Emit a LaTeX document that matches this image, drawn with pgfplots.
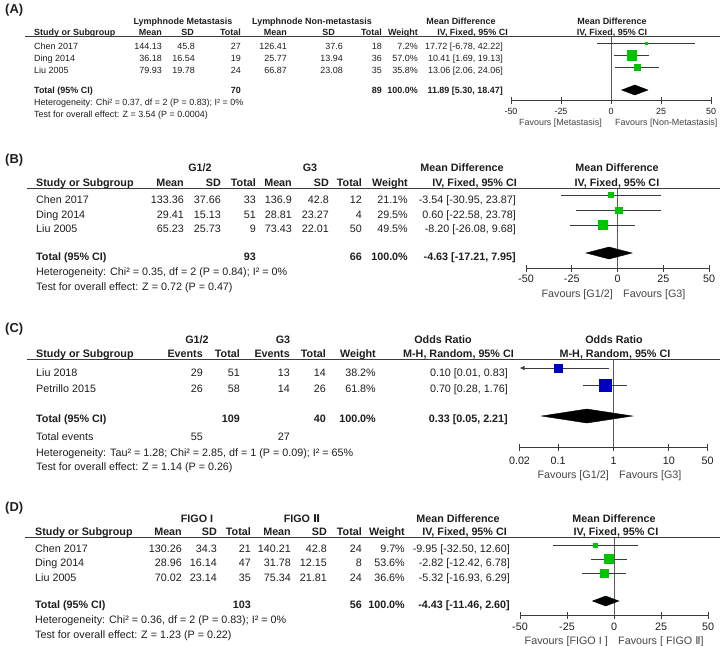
\documentclass[border=0pt]{standalone}
\usepackage{fontspec}
\setmainfont{Liberation Sans}
\newfontfamily\dejavu{DejaVu Sans}
\usepackage{pgfplots}
\pgfplotsset{compat=1.18}
\usetikzlibrary{arrows.meta}

\definecolor{txt}{HTML}{1E1E1E}
\definecolor{rule}{HTML}{3C3C3C}
\definecolor{vline}{HTML}{5A5A5A}
\definecolor{fav}{HTML}{454545}
\definecolor{mdgreen}{HTML}{00C400}
\definecolor{orblue}{HTML}{0000C4}

\newcommand\fa{\fontsize{9}{11}\selectfont}
\newcommand\fb{\fontsize{10.8}{13}\selectfont}
\newcommand\fp{\fontsize{13}{15}\selectfont\bfseries}
\newcommand\TL[4][]{\node[anchor=base west,#1] at (#2,#3) {#4};}
\newcommand\TR[4][]{\node[anchor=base east,#1] at (#2,#3) {#4};}
\newcommand\TC[4][]{\node[anchor=base,#1] at (#2,#3) {#4};}

\pgfplotsset{
  forest/.style={
    scale only axis, clip=false,
    axis x line*=bottom, axis y line=none, ytick=\empty,
    x axis line style={draw=rule, line width=0.8bp, -},
    tick align=center, major tick length=7bp,
    tick style={draw=rule, line width=0.8bp},
    xticklabel style={text=txt, inner sep=0pt, anchor=base},
  },
  ci/.style={draw=rule, line width=0.8bp, mark=none, forget plot},
  zero/.style={draw=vline, line width=0.8bp, mark=none, forget plot},
  sq/.style={only marks, mark=square*, mark options={draw=mdgreen, fill=mdgreen}},
  sqb/.style={only marks, mark=square*, mark options={draw=orblue, fill=orblue}},
  dia/.style={fill=black, draw=black, mark=none},
}

\begin{document}
\begin{tikzpicture}
\path[use as bounding box] (0,0) rectangle (720bp,-646bp);

% ---------------- (A) ----------------
\begin{axis}[forest, at={(511bp,-36bp)}, anchor=north west,
  width=200bp, y=12bp, xmin=-50, xmax=50, ymin=-5.75, ymax=-0.4167,
  xtick={-50,-25,0,25,50}, xticklabels={-50,-25,0,25,50},
  xticklabel style={font=\fa, yshift=-10.7bp}]
\addplot[zero] coordinates {(0,-5.75) (0,-0.4167)};
\addplot[ci] coordinates {(-6.78,-1) (42.22,-1)};
\addplot[ci] coordinates {(1.69,-2) (19.13,-2)};
\addplot[ci] coordinates {(2.06,-3) (24.06,-3)};
\addplot[sq, mark size=1bp] coordinates {(17.72,-1)};
\addplot[sq, mark size=4.7bp] coordinates {(10.41,-2)};
\addplot[sq, mark size=3bp] coordinates {(13.06,-3)};
\addplot[dia] coordinates {(5.30,-4.917) (11.89,-4.5) (18.47,-4.917) (11.89,-5.333)} -- cycle;
\end{axis}

% ---------------- (B) ----------------
\begin{axis}[forest, at={(526bp,-188bp)}, anchor=north west,
  width=183bp, y=15bp, xmin=-50, xmax=50, ymin=-5.867, ymax=-0.533,
  xtick={-50,-25,0,25,50}, xticklabels={-50,-25,0,25,50},
  xticklabel style={font=\fb, yshift=-11.4bp}]
\addplot[zero] coordinates {(0,-5.867) (0,-0.533)};
\addplot[ci] coordinates {(-30.95,-1) (23.87,-1)};
\addplot[ci] coordinates {(-22.58,-2) (23.78,-2)};
\addplot[ci] coordinates {(-26.08,-3) (9.68,-3)};
\addplot[sq, mark size=2.5bp] coordinates {(-3.54,-1)};
\addplot[sq, mark size=3.3bp] coordinates {(0.60,-2)};
\addplot[sq, mark size=4.5bp] coordinates {(-8.20,-3)};
\addplot[dia] coordinates {(-17.21,-4.867) (-4.63,-4.467) (7.95,-4.867) (-4.63,-5.267)} -- cycle;
\end{axis}

% ---------------- (C) ----------------
\begin{axis}[forest, xmode=log, at={(519.5bp,-360bp)}, anchor=north west,
  width=188bp, y=17bp, xmin=0.02, xmax=50, ymin=-5.647, ymax=-0.529,
  xtick={0.02,0.1,1,10,50}, xticklabels={0.02,0.1,1,10,50},
  minor xtick={},
  xticklabel style={font=\fb, yshift=-13.5bp}]
\addplot[zero] coordinates {(1,-5.647) (1,-0.529)};
\addplot[ci, -{Latex[length=5bp,width=4.5bp]}] coordinates {(0.83,-1) (0.02,-1)};
\addplot[ci] coordinates {(0.28,-2) (1.76,-2)};
\addplot[sqb, mark size=4.2bp] coordinates {(0.10,-1)};
\addplot[sqb, mark size=5.8bp] coordinates {(0.70,-2)};
\addplot[dia] coordinates {(0.05,-3.824) (0.33,-3.412) (2.21,-3.824) (0.33,-4.236)} -- cycle;
\end{axis}

% ---------------- (D) ----------------
\begin{axis}[forest, at={(520bp,-537bp)}, anchor=north west,
  width=188bp, y=14bp, xmin=-50, xmax=50, ymin=-6, ymax=-0.4286,
  xtick={-50,-25,0,25,50}, xticklabels={-50,-25,0,25,50},
  xticklabel style={font=\fb, yshift=-12.4bp}]
\addplot[zero] coordinates {(0,-6) (0,-0.4286)};
\addplot[ci] coordinates {(-32.50,-1) (12.60,-1)};
\addplot[ci] coordinates {(-12.42,-2) (6.78,-2)};
\addplot[ci] coordinates {(-16.93,-3) (6.29,-3)};
\addplot[sq, mark size=1.7bp] coordinates {(-9.95,-1)};
\addplot[sq, mark size=4.5bp] coordinates {(-2.82,-2)};
\addplot[sq, mark size=3.7bp] coordinates {(-5.32,-3)};
\addplot[dia] coordinates {(-11.46,-5) (-4.43,-4.643) (2.60,-5) (-4.43,-5.357)} -- cycle;
\end{axis}

% ---------------- tables ----------------
\begin{scope}[x=1bp, y=-1bp, every node/.style={inner sep=0pt, text=txt, font=\fa}]
\TL[font=\fp]{5}{13.6}{(A)}
\TC{183}{24.2}{\textbf{Lymphnode Metastasis}}
\TC{312}{24.2}{\textbf{Lymphnode Non-metastasis}}
\TC{461}{24.2}{\textbf{Mean Difference}}
\TC{612}{24.2}{\textbf{Mean Difference}}
\TL{34}{35.2}{\textbf{Study or Subgroup}}
\TR{162}{35.2}{\textbf{Mean}}\TR{194}{35.2}{\textbf{SD}}\TR{241}{35.2}{\textbf{Total}}
\TR{287}{35.2}{\textbf{Mean}}\TR{335}{35.2}{\textbf{SD}}\TR{382}{35.2}{\textbf{Total}}
\TR{418}{35.2}{\textbf{Weight}}\TR{508}{35.2}{\textbf{IV, Fixed, 95\% CI}}
\TC{612}{35.2}{\textbf{IV, Fixed, 95\% CI}}
\draw[rule, line width=0.9bp] (25,36.5) -- (720,36.5);
\TL{34}{49.2}{Chen 2017}\TR{162}{49.2}{144.13}\TR{195}{49.2}{45.8}\TR{241}{49.2}{27}\TR{287}{49.2}{126.41}\TR{343}{49.2}{37.6}\TR{382}{49.2}{18}\TR{418}{49.2}{7.2\%}\TR{503}{49.2}{17.72 [-6.78, 42.22]}
\TL{34}{61.2}{Ding 2014}\TR{162}{61.2}{36.18}\TR{195}{61.2}{16.54}\TR{241}{61.2}{19}\TR{287}{61.2}{25.77}\TR{343}{61.2}{13.94}\TR{382}{61.2}{36}\TR{418}{61.2}{57.0\%}\TR{503}{61.2}{10.41 [1.69, 19.13]}
\TL{34}{73.2}{Liu 2005}\TR{162}{73.2}{79.93}\TR{195}{73.2}{19.78}\TR{241}{73.2}{24}\TR{287}{73.2}{66.87}\TR{343}{73.2}{23.08}\TR{382}{73.2}{35}\TR{418}{73.2}{35.8\%}\TR{503}{73.2}{13.06 [2.06, 24.06]}
\TL{34}{93.2}{\textbf{Total (95\% CI)}}\TR{241}{93.2}{\textbf{70}}\TR{382}{93.2}{\textbf{89}}\TR{418}{93.2}{\textbf{100.0\%}}\TR{503}{93.2}{\textbf{11.89 [5.30, 18.47]}}
\TL{34}{105.2}{Heterogeneity: Chi² = 0.37, df = 2 (P = 0.83); I² = 0\%}
\TL{34}{117.2}{Test for overall effect: Z = 3.54 (P = 0.0004)}
\TR[text=fav]{602}{125.2}{Favours [Metastasis]}
\TL[text=fav]{615}{125.2}{Favours [Non-Metastasis]}
\end{scope}

\begin{scope}[x=1bp, y=-1bp, every node/.style={inner sep=0pt, text=txt, font=\fb}]
% (B)
\TL[font=\fp]{5}{163.6}{(B)}
\TC{200}{171.9}{\textbf{G1/2}}\TC{310}{171.9}{\textbf{G3}}
\TC{462}{171.9}{\textbf{Mean Difference}}\TC{617}{171.9}{\textbf{Mean Difference}}
\TL{36}{186.5}{\textbf{Study or Subgroup}}
\TR{184}{186.5}{\textbf{Mean}}\TR{221}{186.5}{\textbf{SD}}\TR{256}{186.5}{\textbf{Total}}
\TR{292}{186.5}{\textbf{Mean}}\TR{329}{186.5}{\textbf{SD}}\TR{362}{186.5}{\textbf{Total}}
\TR{408}{186.5}{\textbf{Weight}}\TR{517}{186.5}{\textbf{IV, Fixed, 95\% CI}}
\TC{617}{186.5}{\textbf{IV, Fixed, 95\% CI}}
\draw[rule, line width=0.9bp] (27,188.5) -- (720,188.5);
\TL{36}{203}{Chen 2017}\TR{184}{203}{133.36}\TR{221}{203}{37.66}\TR{256}{203}{33}\TR{292}{203}{136.9}\TR{329}{203}{42.8}\TR{362}{203}{12}\TR{408}{203}{21.1\%}\TR{516}{203}{-3.54 [-30.95, 23.87]}
\TL{36}{218}{Ding 2014}\TR{184}{218}{29.41}\TR{221}{218}{15.13}\TR{256}{218}{51}\TR{292}{218}{28.81}\TR{329}{218}{23.27}\TR{362}{218}{4}\TR{408}{218}{29.5\%}\TR{516}{218}{0.60 [-22.58, 23.78]}
\TL{36}{232}{Liu 2005}\TR{184}{232}{65.23}\TR{221}{232}{25.73}\TR{256}{232}{9}\TR{292}{232}{73.43}\TR{329}{232}{22.01}\TR{362}{232}{50}\TR{408}{232}{49.5\%}\TR{516}{232}{-8.20 [-26.08, 9.68]}
\TL{36}{260}{\textbf{Total (95\% CI)}}\TR{256}{260}{\textbf{93}}\TR{362}{260}{\textbf{66}}\TR{408}{260}{\textbf{100.0\%}}\TR{516}{260}{\textbf{-4.63 [-17.21, 7.95]}}
\TL{36}{275}{Heterogeneity: Chi² = 0.35, df = 2 (P = 0.84); I² = 0\%}
\TL{36}{290}{Test for overall effect: Z = 0.72 (P = 0.47)}
\TR[text=fav]{613}{297}{Favours [G1/2]}
\TL[text=fav]{623}{297}{Favours [G3]}

% (C)
\TL[font=\fp]{5}{332.5}{(C)}
\TC{197}{343}{\textbf{G1/2}}\TC{283}{343}{\textbf{G3}}
\TC{443}{343}{\textbf{Odds Ratio}}\TC{614}{343}{\textbf{Odds Ratio}}
\TL{36}{357.5}{\textbf{Study or Subgroup}}
\TR{203}{357.5}{\textbf{Events}}\TR{240}{357.5}{\textbf{Total}}\TR{290}{357.5}{\textbf{Events}}\TR{326}{357.5}{\textbf{Total}}
\TR{376}{357.5}{\textbf{Weight}}\TR{514}{357.5}{\textbf{M-H, Random, 95\% CI}}
\TC{615}{357.5}{\textbf{M-H, Random, 95\% CI}}
\draw[rule, line width=0.9bp] (27,359.5) -- (720,359.5);
\TL{36}{376}{Liu 2018}\TR{203}{376}{29}\TR{240}{376}{51}\TR{290}{376}{13}\TR{326}{376}{14}\TR{376}{376}{38.2\%}\TR{508}{376}{0.10 [0.01, 0.83]}
\TL{36}{392}{Petrillo 2015}\TR{203}{392}{26}\TR{240}{392}{58}\TR{290}{392}{14}\TR{326}{392}{26}\TR{376}{392}{61.8\%}\TR{508}{392}{0.70 [0.28, 1.76]}
\TL{36}{422}{\textbf{Total (95\% CI)}}\TR{240}{422}{\textbf{109}}\TR{326}{422}{\textbf{40}}\TR{376}{422}{\textbf{100.0\%}}\TR{508}{422}{\textbf{0.33 [0.05, 2.21]}}
\TL{36}{440}{Total events}\TR{203}{440}{55}\TR{290}{440}{27}
\TL{36}{456}{Heterogeneity: Tau² = 1.28; Chi² = 2.85, df = 1 (P = 0.09); I² = 65\%}
\TL{36}{470}{Test for overall effect: Z = 1.14 (P = 0.26)}
\TR[text=fav]{609}{478}{Favours [G1/2]}
\TL[text=fav]{619}{478}{Favours [G3]}

% (D)
\TL[font=\fp]{5}{511.5}{(D)}
\TC{197}{522}{\textbf{FIGO I}}\TC{302}{522}{\textbf{FIGO {\dejavu\bfseries Ⅱ}}}
\TC{458}{522}{\textbf{Mean Difference}}\TC{614}{522}{\textbf{Mean Difference}}
\TL{35}{535.5}{\textbf{Study or Subgroup}}
\TR{182}{535.5}{\textbf{Mean}}\TR{217}{535.5}{\textbf{SD}}\TR{251}{535.5}{\textbf{Total}}
\TR{291}{535.5}{\textbf{Mean}}\TR{327}{535.5}{\textbf{SD}}\TR{362}{535.5}{\textbf{Total}}
\TR{405}{535.5}{\textbf{Weight}}\TR{507}{535.5}{\textbf{IV, Fixed, 95\% CI}}
\TC{616}{535.5}{\textbf{IV, Fixed, 95\% CI}}
\draw[rule, line width=0.9bp] (25,537.5) -- (720,537.5);
\TL{35}{552}{Chen 2017}\TR{182}{552}{130.26}\TR{217}{552}{34.3}\TR{251}{552}{21}\TR{291}{552}{140.21}\TR{327}{552}{42.8}\TR{362}{552}{24}\TR{405}{552}{9.7\%}\TR{510}{552}{-9.95 [-32.50, 12.60]}
\TL{35}{566}{Ding 2014}\TR{182}{566}{28.96}\TR{217}{566}{16.14}\TR{251}{566}{47}\TR{291}{566}{31.78}\TR{327}{566}{12.15}\TR{362}{566}{8}\TR{405}{566}{53.6\%}\TR{510}{566}{-2.82 [-12.42, 6.78]}
\TL{35}{581}{Liu 2005}\TR{182}{581}{70.02}\TR{217}{581}{23.14}\TR{251}{581}{35}\TR{291}{581}{75.34}\TR{327}{581}{21.81}\TR{362}{581}{24}\TR{405}{581}{36.6\%}\TR{510}{581}{-5.32 [-16.93, 6.29]}
\TL{35}{608}{\textbf{Total (95\% CI)}}\TR{251}{608}{\textbf{103}}\TR{362}{608}{\textbf{56}}\TR{405}{608}{\textbf{100.0\%}}\TR{510}{608}{\textbf{-4.43 [-11.46, 2.60]}}
\TL{35}{623}{Heterogeneity: Chi² = 0.36, df = 2 (P = 0.83); I² = 0\%}
\TL{35}{638}{Test for overall effect: Z = 1.23 (P = 0.22)}
\TR[text=fav]{608}{644}{Favours [FIGO I ]}
\TL[text=fav]{618}{644}{Favours [ FIGO {\dejavu Ⅱ}]}
\end{scope}
\end{tikzpicture}
\end{document}
